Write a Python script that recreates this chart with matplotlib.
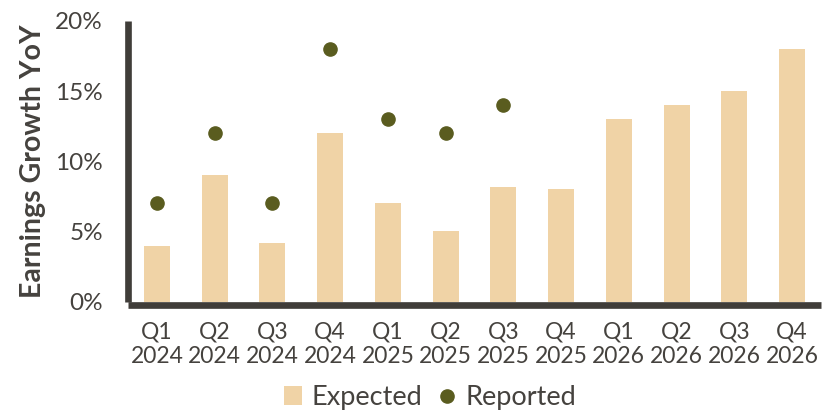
import matplotlib
matplotlib.use("Agg")
import matplotlib.pyplot as plt
from matplotlib.lines import Line2D
from matplotlib.patches import Patch
from matplotlib.ticker import PercentFormatter

quarters = ["Q1\n2024", "Q2\n2024", "Q3\n2024", "Q4\n2024",
            "Q1\n2025", "Q2\n2025", "Q3\n2025", "Q4\n2025",
            "Q1\n2026", "Q2\n2026", "Q3\n2026", "Q4\n2026"]
expected = [4.0, 9.0, 4.2, 12.0, 7.0, 5.0, 8.2, 8.0, 13.0, 14.0, 15.0, 18.0]
reported = [7.0, 12.0, 7.0, 18.0, 13.0, 12.0, 14.0]
y_ticks = [0, 5, 10, 15, 20]

BAR = "#F0D3A6"
DOT = "#5A5C1F"
INK = "#403D39"
TXT = "#45423E"

plt.rcParams["font.family"] = ["Lato", "DejaVu Sans"]

fig = plt.figure(figsize=(8.35, 4.17), dpi=100)
ax = fig.add_axes([0.1533, 0.2765, 0.8299, 0.6735])

x = list(range(len(quarters)))
ax.bar(x, expected, width=0.45, color=BAR, zorder=2)
ax.plot(x[:len(reported)], reported, linestyle="none", marker="o",
        markersize=9.5, color=DOT, zorder=3)

ax.set_xlim(-0.5, len(quarters) - 0.5)
ax.set_ylim(0, 20)
ax.set_yticks(y_ticks)
ax.yaxis.set_major_formatter(PercentFormatter(decimals=0))
ax.set_xticks(x)
ax.set_xticklabels(quarters, linespacing=1.45)

ax.tick_params(axis="y", length=0, labelsize=17.5, colors=TXT, pad=18)
ax.tick_params(axis="x", length=0, labelsize=16.5, colors=TXT, pad=12)

for side in ("top", "right"):
    ax.spines[side].set_visible(False)
for side in ("left", "bottom"):
    ax.spines[side].set_color(INK)
    ax.spines[side].set_linewidth(4.8)
    ax.spines[side].set_capstyle("butt")
ax.spines["bottom"].set_position(("outward", 2.5))

ax.set_ylabel("Earnings Growth YoY", fontsize=20.5, fontweight="bold",
              color=TXT, labelpad=7)

handles = [Patch(facecolor=BAR, edgecolor="none", label="Expected"),
           Line2D([], [], linestyle="none", marker="o", markersize=9.5,
                  color=DOT, label="Reported")]
fig.legend(handles=handles, loc="lower center", bbox_to_anchor=(0.515, -0.042),
           ncol=2, frameon=False, fontsize=19.5, handlelength=0.65,
           handletextpad=0.35, columnspacing=0.6, labelcolor=TXT)

fig.savefig("out.png", dpi=100)
